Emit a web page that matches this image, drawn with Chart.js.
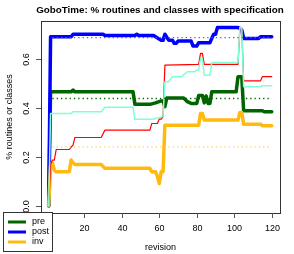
<!DOCTYPE html>
<html><head><meta charset="utf-8">
<script src="https://cdn.jsdelivr.net/npm/chart.js@4/dist/chart.umd.min.js"></script>
<style>html,body{margin:0;padding:0;background:#fff;}#wrap{width:294px;height:254px;}</style>
</head><body><div id="wrap"><canvas id="c" width="294" height="254"></canvas></div>
<script>
const chartTitle = 'GoboTime: % routines and classes with specification';
const xTitle = 'revision';
const yTitle = '% routines or classes';
const xTickValues = [0, 20, 40, 60, 80, 100, 120];
const xTickLabels = ['0', '20', '40', '60', '80', '100', '120'];
const yTickValues = [0, 0.2, 0.4, 0.6];
const yTickLabels = ['0.0', '0.2', '0.4', '0.6'];
const legendNames = ['pre', 'post', 'inv'];

const preRev = [1,2,13,14,15,46,47,55,58,61,62,63,64,73,75,77,80,81,83,84,85,86,87,88,101,102,104,105,115,116,120];
const preVal = [0,0.465,0.465,0.472,0.465,0.465,0.414,0.414,0.42,0.428,0.428,0.405,0.44,0.44,0.425,0.418,0.418,0.45,0.45,0.42,0.448,0.418,0.418,0.465,0.465,0.527,0.527,0.388,0.388,0.384,0.384];
const postRev = [1,2,13,14,30,31,47,48,49,57,61,62,63,65,67,68,69,70,77,78,80,81,87,88,89,90,91,102,103,104,105,113,114,120];
const postVal = [0,0.69,0.69,0.70,0.70,0.695,0.695,0.70,0.695,0.695,0.675,0.675,0.70,0.676,0.676,0.663,0.663,0.672,0.672,0.652,0.652,0.665,0.665,0.683,0.70,0.70,0.727,0.727,0.724,0.718,0.683,0.683,0.69,0.69];
const invRev = [1,2,3,4,5,12,13,14,15,29,31,55,56,58,59,60,61,62,63,81,82,83,84,102,103,104,105,114,115,120];
const invVal = [0,0.16,0.175,0.145,0.139,0.139,0.187,0.175,0.169,0.169,0.153,0.153,0.139,0.139,0.12,0.091,0.139,0.139,0.329,0.329,0.377,0.377,0.35,0.35,0.381,0.381,0.333,0.333,0.327,0.327];
const redRev = [1,2,3,4,5,12,13,14,15,29,31,55,56,59,60,61,62,63,81,82,83,84,102,103,104,105,114,115,120];
const redVal = [0,0.17,0.187,0.187,0.23,0.23,0.24,0.248,0.279,0.279,0.309,0.309,0.336,0.336,0.354,0.354,0.363,0.574,0.577,0.622,0.622,0.577,0.577,0.725,0.725,0.51,0.51,0.527,0.527];
const aquaRev = [1,2,13,14,29,31,46,47,57,58,60,62,63,65,67,72,73,75,79,80,81,82,83,84,87,88,102,103,104,105,114,115,120];
const aquaVal = [0,0.377,0.377,0.384,0.384,0.402,0.402,0.353,0.353,0.357,0.36,0.365,0.506,0.506,0.527,0.527,0.535,0.547,0.547,0.554,0.554,0.60,0.60,0.533,0.533,0.585,0.585,0.728,0.728,0.486,0.486,0.49,0.49];
const avgRev = [3, 120];
const preAvg = [0.438, 0.438];
const postAvg = [0.686, 0.686];
const invAvg = [0.241, 0.241];

const FONT = "'Liberation Sans', Arial, Helvetica, sans-serif";
const colors = { pre: '#006400', post: '#0000FF', inv: '#FFB90F', red: '#FF0000', aqua: '#7FFFD4' };

function pts(rev, val) { return rev.map((r, i) => ({ x: r, y: val[i] })); }
function ds(label, rev, val, color, width, order, dash) {
  return {
    label, data: pts(rev, val), borderColor: color, backgroundColor: color,
    borderWidth: width, pointRadius: 0, showLine: true, fill: false, tension: 0,
    borderCapStyle: dash ? 'butt' : 'round', borderJoinStyle: 'round', borderDash: dash || [], order
  };
}

const frame = {
  id: 'frame',
  afterDraw(chart) {
    const ctx = chart.ctx;
    const xs = chart.scales.x, ys = chart.scales.y;
    const a = chart.chartArea;
    ctx.save();
    ctx.strokeStyle = '#333';
    ctx.lineWidth = 1;
    ctx.strokeRect(Math.round(a.left) + 0.5, Math.round(a.top) + 0.5, Math.round(a.right - a.left), Math.round(a.bottom - a.top));
    ctx.fillStyle = '#000';
    ctx.font = '9px ' + FONT;
    ctx.textAlign = 'center'; ctx.textBaseline = 'middle';
    ctx.strokeStyle = '#555';
    xTickValues.forEach((v, i) => {
      const px = Math.round(xs.getPixelForValue(v)) + 0.5;
      ctx.beginPath(); ctx.moveTo(px, a.bottom); ctx.lineTo(px, a.bottom + 5); ctx.stroke();
      ctx.fillText(xTickLabels[i], px, a.bottom + 16);
    });
    yTickValues.forEach((v, i) => {
      const py = Math.round(ys.getPixelForValue(v)) + 0.5;
      ctx.beginPath(); ctx.moveTo(a.left - 5, py); ctx.lineTo(a.left, py); ctx.stroke();
      ctx.save(); ctx.translate(a.left - 14, py); ctx.rotate(-Math.PI / 2);
      ctx.fillText(yTickLabels[i], 0, 0); ctx.restore();
    });
    ctx.fillText(xTitle, (a.left + a.right) / 2, 248);
    ctx.save(); ctx.translate(10, (a.top + a.bottom) / 2); ctx.rotate(-Math.PI / 2);
    ctx.fillText(yTitle, 0, 0); ctx.restore();
    ctx.font = 'bold 9.8px ' + FONT;
    ctx.fillText(chartTitle, 160, 10);
    ctx.fillStyle = '#fff';
    ctx.fillRect(3, 212, 50, 40);
    ctx.strokeStyle = '#333';
    ctx.strokeRect(3.5, 212.5, 49, 39);
    const lc = [colors.pre, colors.post, colors.inv];
    ctx.font = '9px ' + FONT; ctx.textAlign = 'left';
    legendNames.forEach((n, i) => {
      const y = 222 + i * 10;
      ctx.strokeStyle = lc[i]; ctx.lineWidth = 3; ctx.lineCap = 'butt';
      ctx.beginPath(); ctx.moveTo(8, y); ctx.lineTo(26, y); ctx.stroke();
      ctx.fillStyle = '#000'; ctx.fillText(n, 32, y);
    });
    ctx.restore();
  }
};

new Chart(document.getElementById('c'), {
  type: 'scatter',
  data: {
    datasets: [
      ds('avg post', avgRev, postAvg, '#5555FF', 1.3, 0, [1.3, 3]),
      ds('avg pre', avgRev, preAvg, colors.pre, 1.3, 0, [1.3, 3]),
      ds('avg inv', avgRev, invAvg, '#FFCC66', 1.3, 0, [1.3, 3]),
      ds('aqua', aquaRev, aquaVal, colors.aqua, 1.5, 1),
      ds('red', redRev, redVal, colors.red, 1.2, 2),
      ds('inv', invRev, invVal, colors.inv, 3.5, 3),
      ds('post', postRev, postVal, colors.post, 3.5, 4),
      ds('pre', preRev, preVal, colors.pre, 3.5, 5)
    ]
  },
  options: {
    responsive: false, animation: false, devicePixelRatio: 1,
    layout: { padding: { left: 41, right: 14, top: 21, bottom: 41 } },
    plugins: { legend: { display: false }, tooltip: { enabled: false }, title: { display: false } },
    scales: {
      x: { type: 'linear', min: -3.1, max: 124.4, display: false },
      y: { type: 'linear', min: -0.029, max: 0.754, display: false }
    }
  },
  plugins: [frame]
});
</script></body></html>
